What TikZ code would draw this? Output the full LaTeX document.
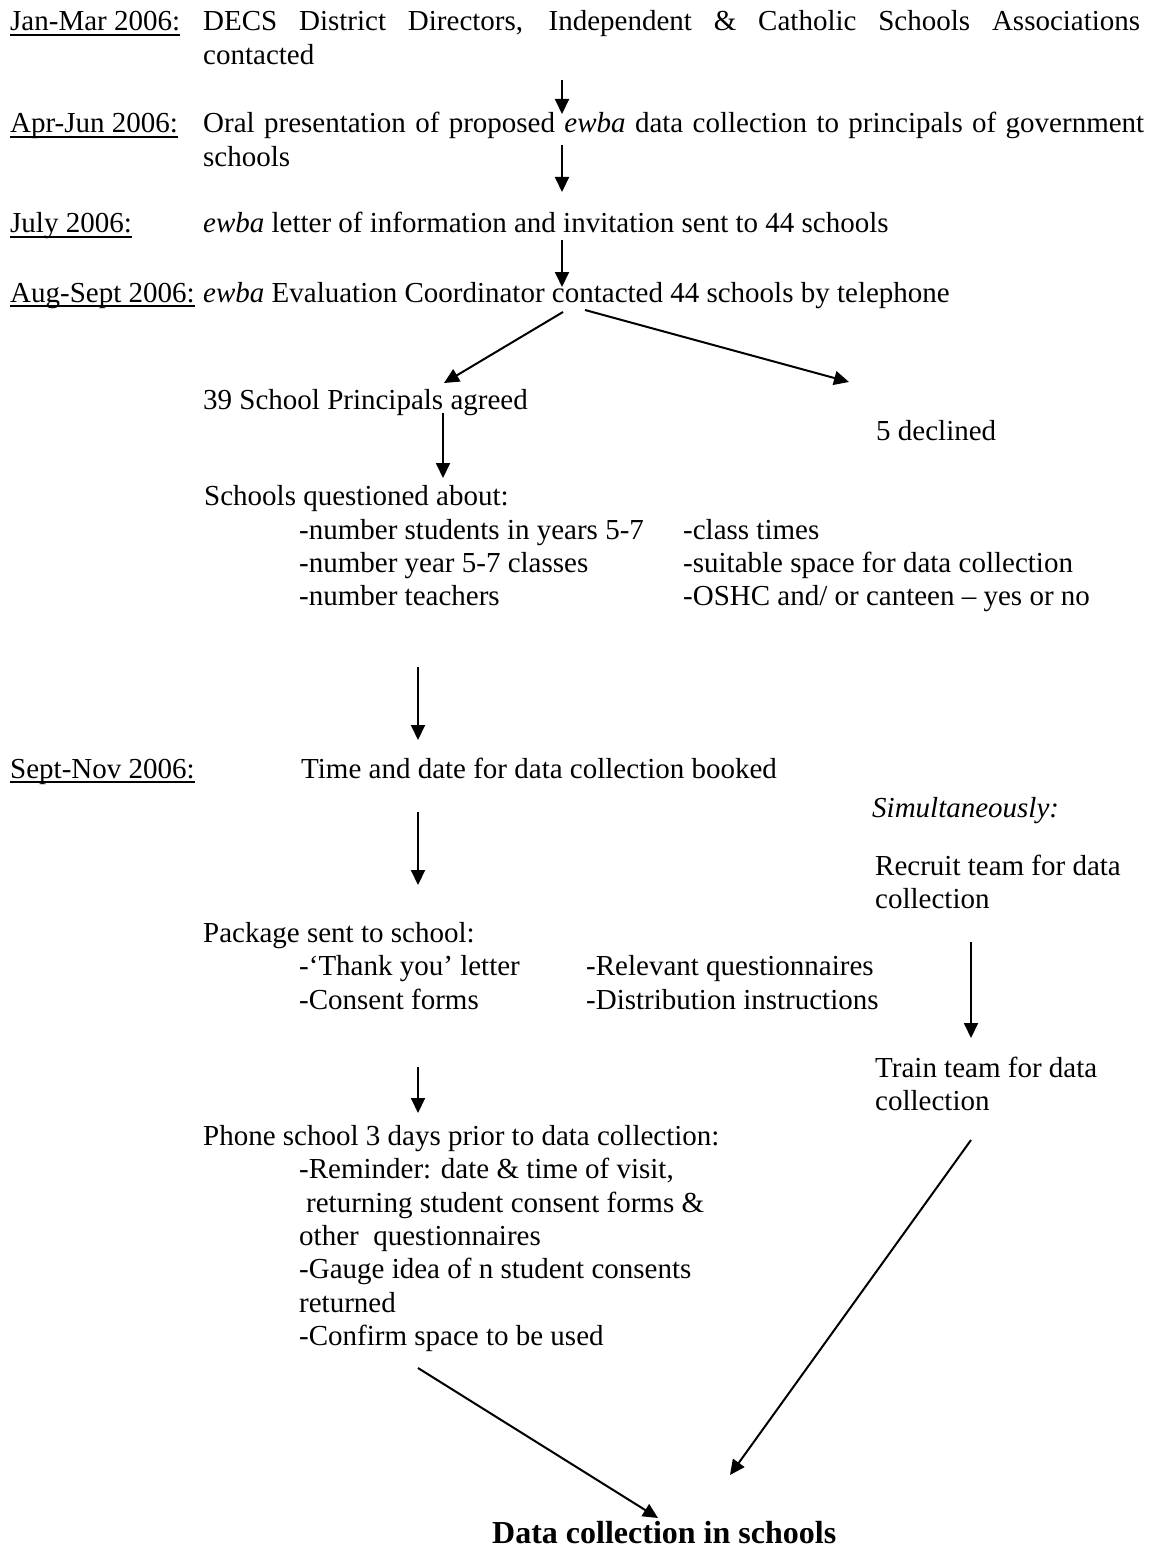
\documentclass[tikz,border=0pt]{standalone}
\usepackage{fontspec}
\setmainfont{Liberation Serif}
\usetikzlibrary{arrows.meta}
\newcommand\mainsz{\fontsize{29}{33}\selectfont}
\begin{document}
\begin{tikzpicture}[x=1pt,y=-1pt,
  txt/.style={anchor=base west,inner sep=0pt,font=\mainsz},
  arr/.style={line width=2pt,-{Triangle[length=15pt,width=14pt]}},
  ul/.style={line width=1.3pt}]
\path[fill=white,use as bounding box] (0,0) rectangle (1156,1554);

% date labels
\node[txt] (l1) at (10,31) {Jan-Mar 2006:};
\node[txt] (l2) at (10,133) {Apr-Jun 2006:};
\node[txt] (l3) at (10,233) {July 2006:};
\node[txt] (l4) at (10,302) {Aug-Sept 2006:};
\node[txt] (l5) at (10,778) {Sept-Nov 2006:};
\foreach \n in {l1,l2,l3,l4,l5}
  \draw[ul] ([yshift=-4pt]\n.base west) -- ([yshift=-4pt]\n.base east);

% main texts
\node[txt] (t1) at (203,31) {\makebox[937pt][s]{DECS District Directors, Independent \& Catholic Schools Associations}};
\node[txt] (t1b) at (203,65) {contacted};
\node[txt] (t2) at (203,133) {\makebox[941pt][s]{Oral presentation of proposed \textit{ewba} data collection to principals of government}};
\node[txt] (t2b) at (203,167) {schools};
\node[txt] (t3) at (203,233) {\textit{ewba} letter of information and invitation sent to 44 schools};
\node[txt] (t4) at (203,302) {\textit{ewba} Evaluation Coordinator contacted 44 schools by telephone};
\node[txt] (agreed) at (203,409) {39 School Principals agreed};
\node[txt] (declined) at (876,440) {5 declined};

\node[txt] (q) at (204,505) {Schools questioned about:};
\node[txt] (q1) at (299,539) {-number students in years 5-7};
\node[txt] (q2) at (299,572) {-number year 5-7 classes};
\node[txt] (q3) at (299,605) {-number teachers};
\node[txt] (q4) at (683,539) {-class times};
\node[txt] (q5) at (683,572) {-suitable space for data collection};
\node[txt] (q6) at (683,605) {-OSHC and/ or canteen – yes or no};

\node[txt] (booked) at (301,778) {Time and date for data collection booked};
\node[txt] (simul) at (872,817) {\textit{Simultaneously:}};
\node[txt] (recruit) at (875,875) {Recruit team for data};
\node[txt] (recruit2) at (875,908) {collection};
\node[txt] (train) at (875,1077) {Train team for data};
\node[txt] (train2) at (875,1110) {collection};

\node[txt] (pkg) at (203,942) {Package sent to school:};
\node[txt] (p1) at (299,975) {-‘Thank you’ letter};
\node[txt] (p2) at (299,1009) {-Consent forms};
\node[txt] (p3) at (586,975) {-Relevant questionnaires};
\node[txt] (p4) at (586,1009) {-Distribution instructions};

\node[txt] (ph) at (203,1145) {Phone school 3 days prior to data collection:};
\node[txt] (ph1) at (299,1178) {-Reminder: date \& time of visit,};
\node[txt] (ph2) at (306,1212) {returning student consent forms \&};
\node[txt] (ph3) at (299,1245) {other\ \ questionnaires};
\node[txt] (ph4) at (299,1278) {-Gauge idea of n student consents};
\node[txt] (ph5) at (299,1312) {returned};
\node[txt] (ph6) at (299,1345) {-Confirm space to be used};

\node[anchor=base west,inner sep=0pt,font=\fontsize{32}{36}\selectfont\bfseries] (final) at (492,1543) {Data collection in schools};

% arrow end points
\coordinate (a1s) at (562,80);   \coordinate (a1e) at (562,114);
\coordinate (a2s) at (562,145);  \coordinate (a2e) at (562,192);
\coordinate (a3s) at (562,240);  \coordinate (a3e) at (562,287);
\coordinate (a4s) at (563,312);  \coordinate (a4e) at (444,383);
\coordinate (a6s) at (585,310);  \coordinate (a6e) at (849,382);
\coordinate (a5s) at (443,413);  \coordinate (a5e) at (443,478);
\coordinate (a7s) at (418,667);  \coordinate (a7e) at (418,740);
\coordinate (a8s) at (418,812);  \coordinate (a8e) at (418,885);
\coordinate (a9s) at (418,1067); \coordinate (a9e) at (418,1113);
\coordinate (a10s) at (971,942); \coordinate (a10e) at (971,1038);
\coordinate (a11s) at (971,1140);\coordinate (a11e) at (730,1475);
\coordinate (a12s) at (418,1368);\coordinate (a12e) at (658,1518);

\foreach \k in {1,...,12}
  \draw[arr] (a\k s) -- (a\k e);
\end{tikzpicture}
\end{document}
